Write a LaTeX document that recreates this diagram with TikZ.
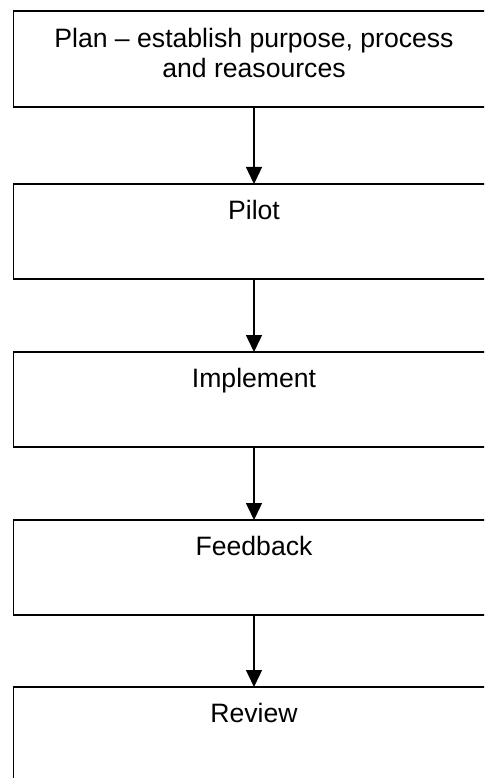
\documentclass[tikz,border=0pt]{standalone}
\usepackage{fontspec}
\setmainfont{Liberation Sans}
\usetikzlibrary{arrows.meta}
\usetikzlibrary{positioning}

\begin{document}
\begin{tikzpicture}[x=1pt, y=1pt]
    \tikzset{>={Triangle[width=16pt,length=17pt]}}
    \tikzset{stage/.style={draw, line width=1.5pt, rectangle, outer sep=0pt,
        inner xsep=0pt, inner ysep=0pt, minimum width=481pt,
        text height=35pt, text depth=60pt, align=center,
        font=\fontsize{26.6}{30}\selectfont}}
    \tikzset{flow/.style={->, line width=1.4pt}}

    % Fix the page
    \useasboundingbox (0, 0) rectangle (484, -778);
    \clip (0, 0) rectangle (484, -778);

    % Draw the stages
    \node[stage, text height=67pt, text depth=29pt, anchor=north]
        (plan) at (254, -11) {Plan -- establish purpose, process\\and reasources};
    \node[stage, below=77pt of plan] (pilot) {Pilot};
    \node[stage, below=73pt of pilot] (implement) {Implement};
    \node[stage, below=73pt of implement] (feedback) {Feedback};
    \node[stage, below=72pt of feedback] (review) {Review};

    % Draw the arrows
    \draw[flow] (plan) -- (pilot);
    \draw[flow] (pilot) -- (implement);
    \draw[flow] (implement) -- (feedback);
    \draw[flow] (feedback) -- (review);
\end{tikzpicture}
\end{document}
